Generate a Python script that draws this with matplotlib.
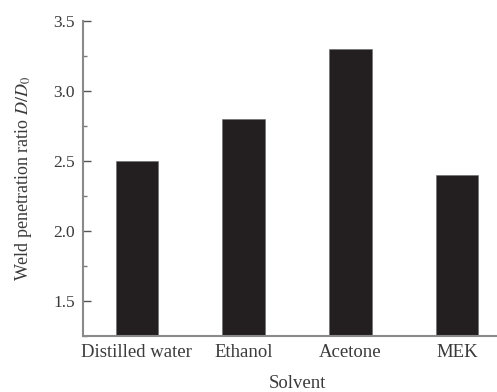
import numpy as np
import matplotlib
matplotlib.use("Agg")
import matplotlib.pyplot as plt
from matplotlib.ticker import MultipleLocator

# data
solvents = ["Distilled water", "Ethanol", "Acetone", "MEK"]
ratio = [2.5, 2.8, 3.3, 2.4]
y_ticks = [1.5, 2.0, 2.5, 3.0, 3.5]

plt.rcParams['font.family'] = ['Liberation Serif', 'DejaVu Serif']
plt.rcParams['mathtext.fontset'] = 'stix'

txt = '#3a3a3a'
axc = '#8a8a8a'

fig = plt.figure(figsize=(4.97, 3.92), dpi=100)
ax = fig.add_axes([0.168, 0.1436, 1.027 - 0.168, 0.9464 - 0.1436])

x = np.arange(len(solvents))
ax.bar(x, ratio, width=0.4, bottom=0, color='#231f20', edgecolor='#6a6a6a', linewidth=0.4)

ax.set_xlim(-0.5, 3.5)
ax.set_ylim(1.25, 3.5)
ax.set_xticks(x)
ax.set_xticklabels(solvents, fontsize=13.5, color=txt)
ax.set_yticks(y_ticks)
ax.set_yticklabels(["%.1f" % v for v in y_ticks], fontsize=12.5, color=txt)
ax.yaxis.set_minor_locator(MultipleLocator(0.25))

ax.tick_params(axis='x', length=0, pad=6)
ax.tick_params(axis='y', which='major', direction='in', length=6, width=1.0, color='#555555', pad=6)
ax.tick_params(axis='y', which='minor', direction='in', length=3, width=1.0, color='#777777')

for s in ['top', 'right']:
    ax.spines[s].set_visible(False)
for s in ['left', 'bottom']:
    ax.spines[s].set_color(axc)
    ax.spines[s].set_linewidth(1.5)

ax.set_xlabel("Solvent", fontsize=13.5, color=txt, labelpad=10)
ax.set_ylabel(r"Weld penetration ratio $D/D_0$", fontsize=13, color=txt, labelpad=14)

fig.savefig("out.png", dpi=100)
